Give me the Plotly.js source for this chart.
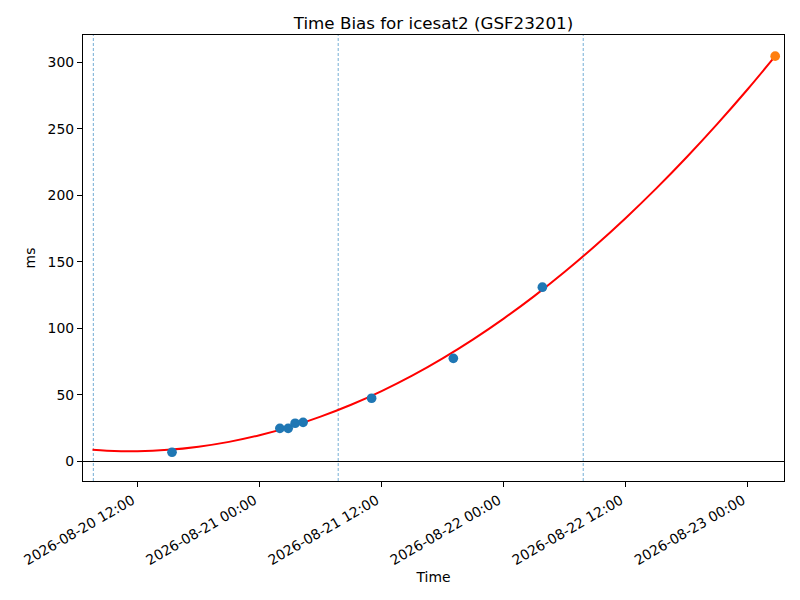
<!DOCTYPE html>
<html>
<head>
<meta charset="utf-8">
<script src="https://cdn.plot.ly/plotly-3.0.1.min.js"></script>
<style>html,body{margin:0;padding:0;background:#fff;}#chart{width:800px;height:600px;}</style>
</head>
<body>
<div id="chart"></div>
<script>
// Observed time-bias points (blue)
const obsTimes = ['2026-08-20 15:24','2026-08-21 02:00','2026-08-21 02:49','2026-08-21 03:30',
                  '2026-08-21 04:17','2026-08-21 11:01','2026-08-21 19:03','2026-08-22 03:48'];
const obsValues = [6.8, 24.8, 24.8, 28.6, 29.3, 47.4, 77.4, 130.9];

// Predicted end point (orange)
const predTimes = ['2026-08-23 02:41'];
const predValues = [304.6];

// Fitted curve (red)
const fitTimes = ['2026-08-20 07:35','2026-08-20 09:00','2026-08-20 12:00','2026-08-20 15:00',
  '2026-08-20 18:00','2026-08-20 21:00','2026-08-21 00:00','2026-08-21 03:00','2026-08-21 06:00',
  '2026-08-21 09:00','2026-08-21 12:00','2026-08-21 15:00','2026-08-21 18:00','2026-08-21 21:00',
  '2026-08-22 00:00','2026-08-22 03:00','2026-08-22 06:00','2026-08-22 09:00','2026-08-22 12:00',
  '2026-08-22 15:00','2026-08-22 18:00','2026-08-22 21:00','2026-08-23 00:00','2026-08-23 02:41'];
const fitValues = [8.6, 8.0, 7.6, 8.6, 11.0, 14.6, 19.6, 25.9, 33.6, 42.5, 52.8, 64.4, 77.4, 91.7,
  107.3, 124.2, 142.5, 162.1, 183.0, 205.2, 228.8, 253.7, 279.9, 304.6];

// Vertical dashed markers
const markerTimes = ['2026-08-20 07:40','2026-08-21 07:44','2026-08-22 07:49'];

const titleText = 'Time Bias for icesat2 (GSF23201)';
const xTitle = 'Time';
const yTitle = 'ms';
const xRange = ['2026-08-20 06:39','2026-08-23 03:33'];
const yRange = [-14.8, 320.5];

const font = 'DejaVu Sans, sans-serif';
const fs = 13.9;

const traces = [
  {x: fitTimes, y: fitValues, type: 'scatter', mode: 'lines',
   line: {color: '#ff0000', width: 2, shape: 'spline'}, hoverinfo: 'skip'},
  {x: obsTimes, y: obsValues, type: 'scatter', mode: 'markers',
   marker: {color: '#1f77b4', size: 9.7}},
  {x: predTimes, y: predValues, type: 'scatter', mode: 'markers',
   marker: {color: '#ff7f0e', size: 9.7}}
];

const shapes = markerTimes.map(t => ({
  type: 'line', xref: 'x', yref: 'paper', x0: t, x1: t, y0: 0, y1: 1,
  line: {color: '#3a8bc4', width: 0.7, dash: '3px,2px'}, layer: 'below'
}));

const layout = {
  width: 800, height: 600,
  margin: {l: 83, r: 16, t: 35, b: 119, pad: 0},
  paper_bgcolor: '#ffffff', plot_bgcolor: '#ffffff',
  showlegend: false,
  font: {family: font, size: fs, color: '#000'},
  title: {text: titleText, font: {family: font, size: 16.7, color: '#000'},
          x: 0.5, xref: 'paper', y: 1, yref: 'paper', yanchor: 'bottom', pad: {b: 6}},
  xaxis: {
    type: 'date', range: xRange, tick0: '2026-08-20 00:00', dtick: 43200000,
    tickformat: '%Y-%m-%d %H:%M', tickangle: -30, ticklabelshift: -5,
    showgrid: false, zeroline: false, showline: true, mirror: true,
    linecolor: '#000', linewidth: 1.1, ticks: 'outside', ticklen: 5, tickwidth: 1, tickcolor: '#000',
    tickfont: {family: font, size: fs, color: '#000'},
    title: {text: xTitle, font: {family: font, size: fs, color: '#000'}, standoff: 5}
  },
  yaxis: {
    range: yRange, tick0: 0, dtick: 50,
    showgrid: false, zeroline: true, zerolinecolor: '#000', zerolinewidth: 1,
    showline: true, mirror: true,
    linecolor: '#000', linewidth: 1.1, ticks: 'outside', ticklen: 5, tickwidth: 1, tickcolor: '#000',
    tickfont: {family: font, size: fs, color: '#000'},
    title: {text: yTitle, font: {family: font, size: fs, color: '#000'}, standoff: 8}
  },
  shapes: shapes
};

Plotly.newPlot('chart', traces, layout, {displayModeBar: false, staticPlot: true});
</script>
</body>
</html>
